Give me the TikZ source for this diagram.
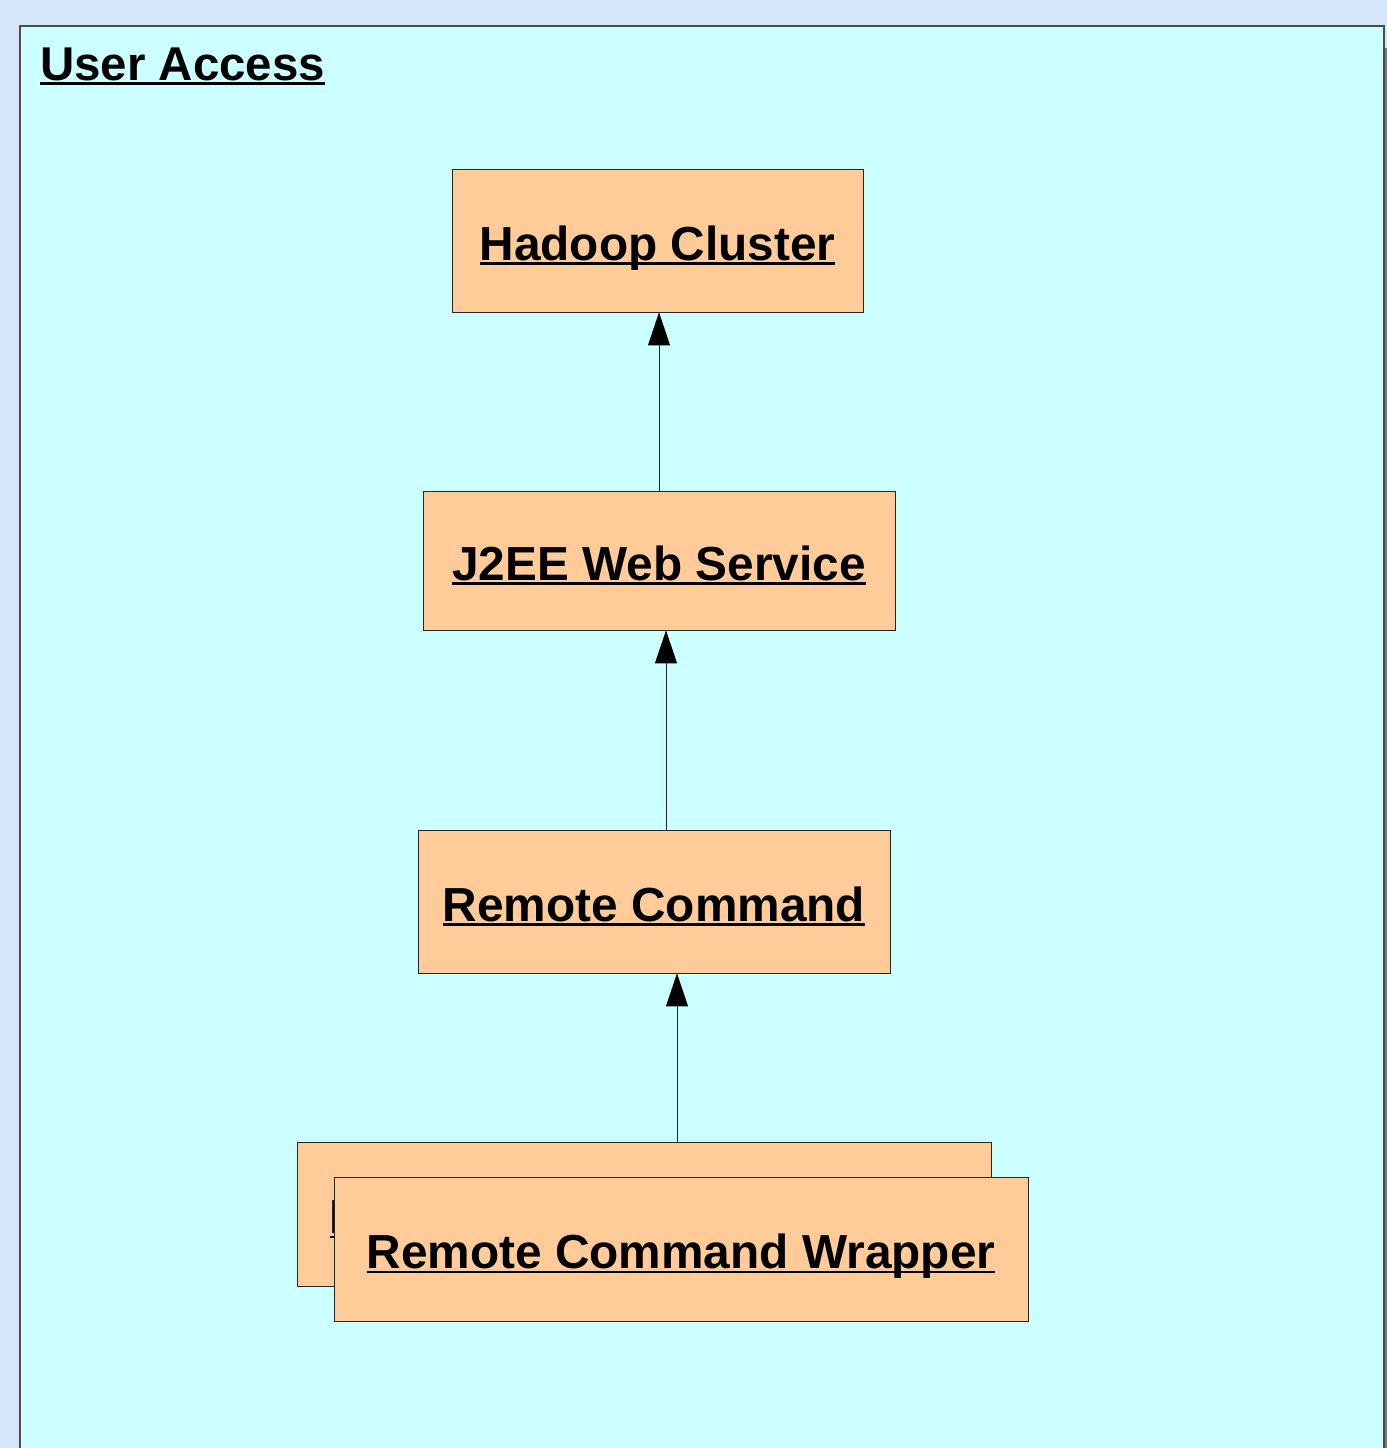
\documentclass[tikz,border=0pt]{standalone}
\usepackage{fontspec}
\setmainfont{Liberation Sans}
\usetikzlibrary{arrows.meta}
\definecolor{pagebg}{HTML}{D6E6FA}
\definecolor{accessbg}{HTML}{CCFFFF}
\definecolor{compbg}{HTML}{FFCC99}
\newcommand{\ultext}[1]{\sbox0{#1}\rlap{\rule[-2.6pt]{\wd0}{1.2pt}}\usebox0}
\begin{document}
\begin{tikzpicture}[x=0.02cm,y=-0.02cm]
    \tikzstyle{comp}=[draw=black!85,line width=0.5pt,fill=compbg,inner sep=0pt,
      text height=22.2pt,text depth=0pt,font=\bfseries\fontsize{27.2}{32}\selectfont]
    \tikzstyle{uses}=[draw=black!85,line width=0.5pt,
      -{Triangle[width=12.5pt,length=18.7pt,color=black]}]
    \useasboundingbox[fill=pagebg] (0,0) rectangle (1387,1448);
    \clip (0,0) rectangle (1387,1448);
    \fill[black!55] (1385,48) rectangle (1390,1460);
    \draw[draw=black!70,line width=0.7pt,fill=accessbg] (20,26) rectangle (1384,1470);
    \node[anchor=base west,font=\bfseries\fontsize{27}{32}\selectfont,inner sep=0pt]
      (title) at (40,80) {\ultext{User Access}};
    \node[comp,minimum width=8.22cm,minimum height=2.86cm] (hadoop) at (657.5,240.5)
      {\ultext{Hadoop Cluster}};
    \node[comp,minimum width=9.44cm,minimum height=2.78cm] (j2ee) at (659,560.5)
      {\ultext{J2EE Web Service}};
    \node[comp,minimum width=9.44cm,minimum height=2.86cm] (remote) at (654,901.5)
      {\ultext{Remote Command}};
    \node[comp,minimum width=13.88cm,minimum height=2.88cm] (wrapperback) at (644,1214)
      {\ultext{Remote Command Wrapper}};
    \node[comp,minimum width=13.88cm,minimum height=2.88cm] (wrapper) at (681,1249)
      {\ultext{Remote Command Wrapper}};
    \draw[uses] (j2ee.north) -- (j2ee.north |- hadoop.south);
    \draw[uses] ([xshift=0.24cm]remote.north) -- ([xshift=0.24cm]remote.north |- j2ee.south);
    \draw[uses] ([xshift=0.66cm]wrapperback.north) -- ([xshift=0.66cm]wrapperback.north |- remote.south);
  \end{tikzpicture}
\end{document}
